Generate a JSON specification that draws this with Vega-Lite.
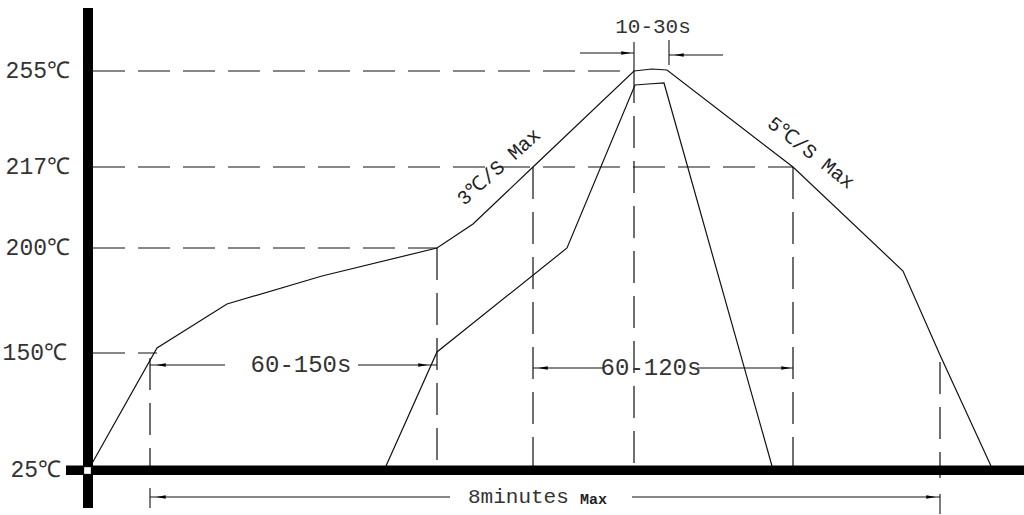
{
  "$schema": "https://vega.github.io/schema/vega-lite/v6.json",
  "width": 1024,
  "height": 515,
  "padding": 0,
  "autosize": {"type": "fit", "contains": "padding"},
  "background": "white",
  "config": {"view": {"stroke": null}},
  "datasets": {
    "axes": [
      {"x": 83, "y": 8, "x2": 93, "y2": 508},
      {"x": 66, "y": 465.5, "x2": 1024, "y2": 475}
    ],
    "origin": [{"x": 87.5, "y": 470.5}],
    "dashed": [
      {"x": 93, "y": 71, "x2": 634, "y2": 71},
      {"x": 93, "y": 167, "x2": 793, "y2": 167},
      {"x": 93, "y": 248, "x2": 437, "y2": 248},
      {"x": 93, "y": 353, "x2": 157, "y2": 353},
      {"x": 150, "y": 358, "x2": 150, "y2": 466},
      {"x": 437, "y": 248, "x2": 437, "y2": 466},
      {"x": 533, "y": 167, "x2": 533, "y2": 466},
      {"x": 634, "y": 71, "x2": 634, "y2": 466},
      {"x": 793, "y": 167, "x2": 793, "y2": 466},
      {"x": 940, "y": 362, "x2": 940, "y2": 478}
    ],
    "solid": [
      {"x": 150, "y": 488, "x2": 150, "y2": 508},
      {"x": 940, "y": 494, "x2": 940, "y2": 514},
      {"x": 634, "y": 42, "x2": 634, "y2": 71},
      {"x": 669, "y": 40, "x2": 669, "y2": 65},
      {"x": 150, "y": 365, "x2": 225, "y2": 365},
      {"x": 358, "y": 365, "x2": 437, "y2": 365},
      {"x": 533, "y": 368, "x2": 603, "y2": 368},
      {"x": 697, "y": 368, "x2": 793, "y2": 368},
      {"x": 150, "y": 497, "x2": 450, "y2": 497},
      {"x": 632, "y": 497, "x2": 940, "y2": 497},
      {"x": 580, "y": 53, "x2": 634, "y2": 53},
      {"x": 669, "y": 55, "x2": 723, "y2": 55}
    ],
    "heads": [
      {"x": 161, "y": 365, "dir": "left"},
      {"x": 423, "y": 365, "dir": "right"},
      {"x": 543, "y": 368, "dir": "left"},
      {"x": 786, "y": 368, "dir": "right"},
      {"x": 161, "y": 497, "dir": "left"},
      {"x": 931, "y": 497, "dir": "right"},
      {"x": 626, "y": 53, "dir": "right"},
      {"x": 679, "y": 55, "dir": "left"}
    ],
    "profile": [
      {"s": "outer", "i": 0, "x": 90, "y": 467},
      {"s": "outer", "i": 1, "x": 157, "y": 348},
      {"s": "outer", "i": 2, "x": 227, "y": 304},
      {"s": "outer", "i": 3, "x": 322, "y": 276},
      {"s": "outer", "i": 4, "x": 437, "y": 248},
      {"s": "outer", "i": 5, "x": 473, "y": 224},
      {"s": "outer", "i": 6, "x": 533, "y": 167},
      {"s": "outer", "i": 7, "x": 634, "y": 71},
      {"s": "outer", "i": 8, "x": 652, "y": 69},
      {"s": "outer", "i": 9, "x": 667, "y": 70},
      {"s": "outer", "i": 10, "x": 793, "y": 167},
      {"s": "outer", "i": 11, "x": 903, "y": 271},
      {"s": "outer", "i": 12, "x": 940, "y": 355},
      {"s": "outer", "i": 13, "x": 991, "y": 466},
      {"s": "inner", "i": 0, "x": 386, "y": 466},
      {"s": "inner", "i": 1, "x": 437, "y": 352},
      {"s": "inner", "i": 2, "x": 567, "y": 248},
      {"s": "inner", "i": 3, "x": 635, "y": 85},
      {"s": "inner", "i": 4, "x": 648, "y": 84},
      {"s": "inner", "i": 5, "x": 664, "y": 83},
      {"s": "inner", "i": 6, "x": 772, "y": 466}
    ],
    "ylabels": [
      {"t": "255℃", "x": 70, "y": 71},
      {"t": "217℃", "x": 70, "y": 167},
      {"t": "200℃", "x": 70, "y": 248},
      {"t": "150℃", "x": 67, "y": 353},
      {"t": "25℃", "x": 61, "y": 470}
    ],
    "dims": [
      {"t": "60-150s", "x": 301, "y": 365},
      {"t": "60-120s", "x": 651, "y": 368}
    ],
    "top": [{"t": "10-30s", "x": 653, "y": 27}],
    "minutes": [{"t": "8minutes", "x": 468, "y": 497}],
    "maxsmall": [{"t": "Max", "x": 580, "y": 499}],
    "rate3": [{"t": "3℃/S Max", "x": 499, "y": 167}],
    "rate5": [{"t": "5℃/S Max", "x": 811, "y": 153}]
  },
  "layer": [
    {
      "data": {"name": "dashed"},
      "mark": {"type": "rule", "stroke": "#111", "strokeWidth": 1.2, "strokeDash": [32, 13]},
      "encoding": {
        "x": {"field": "x", "type": "quantitative", "scale": {"domain": [0, 1024], "nice": false, "zero": false}, "axis": null},
        "y": {"field": "y", "type": "quantitative", "scale": {"domain": [0, 515], "reverse": true, "nice": false, "zero": false}, "axis": null},
        "x2": {"field": "x2"},
        "y2": {"field": "y2"}
      }
    },
    {
      "data": {"name": "solid"},
      "mark": {"type": "rule", "stroke": "#111", "strokeWidth": 1.1},
      "encoding": {
        "x": {"field": "x", "type": "quantitative", "axis": null},
        "y": {"field": "y", "type": "quantitative", "axis": null},
        "x2": {"field": "x2"},
        "y2": {"field": "y2"}
      }
    },
    {
      "data": {"name": "profile"},
      "mark": {"type": "line", "stroke": "#111", "strokeWidth": 1.2},
      "encoding": {
        "x": {"field": "x", "type": "quantitative", "axis": null},
        "y": {"field": "y", "type": "quantitative", "axis": null},
        "detail": {"field": "s"},
        "order": {"field": "i", "type": "quantitative"}
      }
    },
    {
      "data": {"name": "heads"},
      "mark": {"type": "point", "filled": true, "fill": "#000", "opacity": 1, "size": 90},
      "encoding": {
        "x": {"field": "x", "type": "quantitative", "axis": null},
        "y": {"field": "y", "type": "quantitative", "axis": null},
        "shape": {"field": "dir", "type": "nominal", "legend": null,
          "scale": {"domain": ["left", "right"], "range": ["M1,-0.38L-1,0L1,0.38Z", "M-1,-0.38L1,0L-1,0.38Z"]}}
      }
    },
    {
      "data": {"name": "axes"},
      "mark": {"type": "rect", "fill": "#000"},
      "encoding": {
        "x": {"field": "x", "type": "quantitative", "axis": null},
        "y": {"field": "y", "type": "quantitative", "axis": null},
        "x2": {"field": "x2"},
        "y2": {"field": "y2"}
      }
    },
    {
      "data": {"name": "origin"},
      "mark": {"type": "square", "filled": true, "fill": "white", "opacity": 1, "size": 45},
      "encoding": {
        "x": {"field": "x", "type": "quantitative", "axis": null},
        "y": {"field": "y", "type": "quantitative", "axis": null}
      }
    },
    {
      "data": {"name": "ylabels"},
      "mark": {"type": "text", "align": "right", "baseline": "middle", "font": "Liberation Mono", "fontSize": 23, "fill": "#333"},
      "encoding": {
        "x": {"field": "x", "type": "quantitative", "axis": null},
        "y": {"field": "y", "type": "quantitative", "axis": null},
        "text": {"field": "t"}
      }
    },
    {
      "data": {"name": "dims"},
      "mark": {"type": "text", "align": "center", "baseline": "middle", "font": "Liberation Mono", "fontSize": 24, "fill": "#333"},
      "encoding": {
        "x": {"field": "x", "type": "quantitative", "axis": null},
        "y": {"field": "y", "type": "quantitative", "axis": null},
        "text": {"field": "t"}
      }
    },
    {
      "data": {"name": "top"},
      "mark": {"type": "text", "align": "center", "baseline": "middle", "font": "Liberation Mono", "fontSize": 21, "fill": "#333"},
      "encoding": {
        "x": {"field": "x", "type": "quantitative", "axis": null},
        "y": {"field": "y", "type": "quantitative", "axis": null},
        "text": {"field": "t"}
      }
    },
    {
      "data": {"name": "minutes"},
      "mark": {"type": "text", "align": "left", "baseline": "middle", "font": "Liberation Mono", "fontSize": 21, "fill": "#333"},
      "encoding": {
        "x": {"field": "x", "type": "quantitative", "axis": null},
        "y": {"field": "y", "type": "quantitative", "axis": null},
        "text": {"field": "t"}
      }
    },
    {
      "data": {"name": "maxsmall"},
      "mark": {"type": "text", "align": "left", "baseline": "middle", "font": "Liberation Mono", "fontSize": 15, "fontWeight": "bold", "fill": "#222"},
      "encoding": {
        "x": {"field": "x", "type": "quantitative", "axis": null},
        "y": {"field": "y", "type": "quantitative", "axis": null},
        "text": {"field": "t"}
      }
    },
    {
      "data": {"name": "rate3"},
      "mark": {"type": "text", "align": "center", "baseline": "middle", "font": "Liberation Mono", "fontSize": 20, "angle": 318, "fill": "#222"},
      "encoding": {
        "x": {"field": "x", "type": "quantitative", "axis": null},
        "y": {"field": "y", "type": "quantitative", "axis": null},
        "text": {"field": "t"}
      }
    },
    {
      "data": {"name": "rate5"},
      "mark": {"type": "text", "align": "center", "baseline": "middle", "font": "Liberation Mono", "fontSize": 20, "angle": 38, "fill": "#222"},
      "encoding": {
        "x": {"field": "x", "type": "quantitative", "axis": null},
        "y": {"field": "y", "type": "quantitative", "axis": null},
        "text": {"field": "t"}
      }
    }
  ]
}
